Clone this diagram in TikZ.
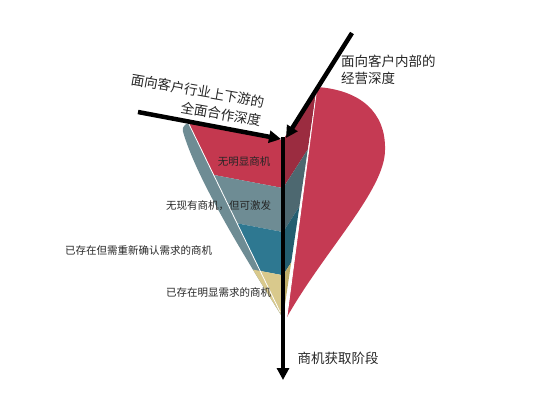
\documentclass[tikz,border=0pt]{standalone}
\usepackage{fontspec}
\newfontfamily\cjk{Noto Sans CJK SC}
\usepackage{tikz}
\usetikzlibrary{arrows.meta,calc}

\definecolor{conered}{HTML}{C4384F}
\definecolor{coneredouter}{HTML}{C53A53}
\definecolor{conereddark}{HTML}{9B2C40}
\definecolor{coneslate}{HTML}{6E8C94}
\definecolor{coneslatedark}{HTML}{4D6870}
\definecolor{coneblue}{HTML}{2E7891}
\definecolor{conebluedark}{HTML}{235E70}
\definecolor{coneyellow}{HTML}{D9C98C}
\definecolor{coneyellowdark}{HTML}{BFAE6A}

\begin{document}
\begin{tikzpicture}[x=1pt, y=1pt,
    bigarrow/.style={line width=4.5pt, -{Triangle[length=12pt,width=12pt]}},
    biglabel/.style={font=\cjk\fontsize{13.5}{19}\selectfont, text=black!85, inner sep=0pt},
    smalllabel/.style={font=\cjk\fontsize{10.5}{12}\selectfont, text=black!85, inner sep=0pt}]
    \useasboundingbox (0,0) rectangle (554,400);

    \coordinate (apex) at (283, 82);
    \coordinate (axis) at (283, 260);
    \coordinate (lrim) at (188, 278);
    \coordinate (rrim) at (317, 313);

    % left cut face and right cut face, in bands
    \foreach \a/\b/\c in {0/0.27/conered, 0.27/0.517/coneslate, 0.517/0.76/coneblue, 0.76/1/coneyellow}
        \fill[\c] ($(axis)!\a!(apex)$) -- ($(lrim)!\a!(apex)$) -- ($(lrim)!\b!(apex)$) -- ($(axis)!\b!(apex)$) -- cycle;
    \foreach \a/\b/\c in {0/0.27/conereddark, 0.27/0.517/coneslatedark, 0.517/0.76/conebluedark, 0.76/1/coneyellowdark}
        \fill[\c] ($(axis)!\a!(apex)$) -- ($(rrim)!\a!(apex)$) -- ($(rrim)!\b!(apex)$) -- ($(axis)!\b!(apex)$) -- cycle;

    % outer surface, left strip
    \begin{scope}
        \clip[rounded corners=3pt] (lrim) -- (182, 272) .. controls (195, 225) and (240, 150) .. (apex) -- cycle;
        \fill[coneslate] (150, 300) rectangle (300, 60);
        \fill[coneyellow] ($(axis)!0.76!(apex)$) -- ($(lrim)!0.76!(apex)$) -- ++(-40, 7.5) -- (apex) -- cycle;
    \end{scope}

    % outer surface, right
    \fill[coneredouter] (rrim) .. controls (360, 310) and (386, 288) .. (385, 250)
        .. controls (385, 210) and (325, 150) .. (287, 83) -- cycle;

    \draw[white, line width=0.8pt] (lrim) -- ($(lrim)!0.97!(apex)$);
    \draw[white, line width=0.8pt] (rrim) -- (287, 84);

    % arrows
    \coordinate (lstart) at (138, 288);
    \coordinate (rstart) at (352, 367);
    \coordinate (lhit) at (281, 261);
    \coordinate (rhit) at (286, 262);
    \coordinate (bottom) at (283, 20);
    \draw[bigarrow] (lstart) -- (lhit);
    \draw[bigarrow] (rstart) -- (rhit);
    \draw[bigarrow] (283, 263) -- (bottom);

    % labels
    \node[biglabel, rotate=-10, align=right] (outer) at (196, 300) {面向客户行业上下游的\\全面合作深度};
    \node[biglabel, align=left, anchor=west, font=\cjk\fontsize{13.5}{17}\selectfont] (inner) at (341, 330) {面向客户内部的\\经营深度};
    \node[smalllabel] (band1) at (244, 238) {无明显商机};
    \node[smalllabel] (band2) at (218.5, 194) {无现有商机，但可激发};
    \node[smalllabel] (band3) at (138.5, 150) {已存在但需重新确认需求的商机};
    \node[smalllabel] (band4) at (218.5, 107) {已存在明显需求的商机};
    \node[biglabel] (stage) at (338, 42) {商机获取阶段};
\end{tikzpicture}
\end{document}
